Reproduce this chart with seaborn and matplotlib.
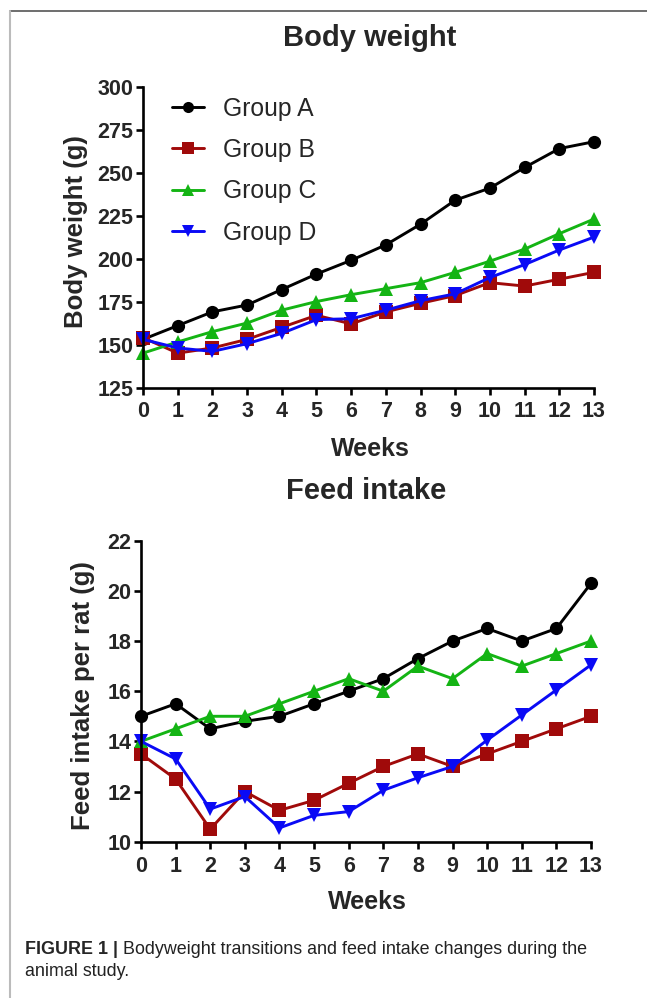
import matplotlib
matplotlib.use("Agg")
import matplotlib.pyplot as plt
import seaborn as sns
import pandas as pd
from matplotlib.lines import Line2D

sns.set_theme(style="ticks")
plt.rcParams['font.family'] = ['Liberation Sans', 'DejaVu Sans']

weeks = list(range(14))
groups = ["Group A", "Group B", "Group C", "Group D"]
colors = ["#000000", "#A00A0A", "#14B414", "#0A0AF5"]
markers = ["o", "s", "^", "v"]

bw_a = [153, 161, 169, 173, 182, 191, 199, 208, 220, 234, 241, 253, 264, 268]
bw_b = [154, 145, 148, 153, 160, 167, 162, 169, 174, 178.5, 186, 184, 188, 192]
bw_c = [145, 151.5, 157.5, 162.5, 170, 175, 179, 182.5, 186, 192, 198.5, 205.5, 214.5, 223]
bw_d = [153, 148, 146, 150.5, 156.5, 164.5, 165, 170, 175.5, 179.5, 189, 196.5, 205, 212.5]

fi_a = [15.0, 15.5, 14.5, 14.8, 15.0, 15.5, 16.0, 16.5, 17.3, 18.0, 18.5, 18.0, 18.5, 20.3]
fi_b = [13.5, 12.5, 10.5, 12.0, 11.25, 11.65, 12.33, 13.0, 13.5, 13.0, 13.5, 14.0, 14.5, 15.0]
fi_c = [14.0, 14.5, 15.0, 15.0, 15.5, 16.0, 16.5, 16.0, 17.0, 16.5, 17.5, 17.0, 17.5, 18.0]
fi_d = [14.0, 13.3, 11.3, 11.8, 10.55, 11.05, 11.2, 12.05, 12.55, 13.0, 14.05, 15.05, 16.05, 17.05]

bw_ticks = [125, 150, 175, 200, 225, 250, 275, 300]
fi_ticks = [10, 12, 14, 16, 18, 20, 22]


def long_df(series):
    rows = []
    for g, vals in zip(groups, series):
        for w, v in zip(weeks, vals):
            rows.append({"Weeks": w, "value": v, "group": g})
    return pd.DataFrame(rows)


W, H = 647, 998
fig = plt.figure(figsize=(W / 100, H / 100), dpi=100)
fig.patch.set_facecolor("white")

# frame lines of the figure page
fig.add_artist(Line2D([9.5 / W, 1.0], [1 - 10.5 / H, 1 - 10.5 / H], color="#555555", lw=1.2, transform=fig.transFigure))
fig.add_artist(Line2D([9.5 / W, 9.5 / W], [0, 1 - 10.5 / H], color="#BBBBBB", lw=1.5, transform=fig.transFigure))


def make_axes(rect, df, yticks, ylim):
    ax = fig.add_axes(rect)
    ax.set_facecolor("white")
    sns.lineplot(data=df, x="Weeks", y="value", hue="group", style="group",
                 palette=dict(zip(groups, colors)), markers=dict(zip(groups, markers)),
                 dashes=False, linewidth=2.1, markersize=9.5, markeredgewidth=0,
                 ax=ax, legend=False)
    for ln in ax.lines:
        ln.set_clip_on(False)
    ax.set_xlim(0, 13)
    ax.set_ylim(*ylim)
    ax.set_xticks(weeks)
    ax.set_yticks(yticks)
    for s in ["top", "right"]:
        ax.spines[s].set_visible(False)
    for s in ["left", "bottom"]:
        ax.spines[s].set_linewidth(1.9)
        ax.spines[s].set_color("black")
    ax.tick_params(axis="both", direction="out", length=5, width=1.9, color="black",
                   labelsize=15.5)
    ax.tick_params(axis="x", pad=5)
    ax.tick_params(axis="y", pad=2)
    for lab in ax.get_xticklabels() + ax.get_yticklabels():
        lab.set_fontweight("bold")
    ax.set_xlabel("")
    ax.set_ylabel("")
    return ax


ax1 = make_axes([143 / W, 1 - 387.5 / H, 451 / W, 300.8 / H], long_df([bw_a, bw_b, bw_c, bw_d]), bw_ticks, (125, 300))
ax2 = make_axes([141 / W, 1 - 841.7 / H, 450 / W, 301 / H], long_df([fi_a, fi_b, fi_c, fi_d]), fi_ticks, (10, 22))

handles = [Line2D([], [], color=c, marker=m, lw=2.1, markersize=8, markeredgewidth=0) for c, m in zip(colors, markers)]
ax1.legend(handles, groups, loc="upper left", bbox_to_anchor=(29 / 451, 1 - 10 / 300.8), frameon=False,
           fontsize=17.8, handlelength=1.3, handletextpad=0.75, labelspacing=0.7, borderaxespad=0,
           borderpad=0)

fig.text(370 / W, 1 - 38 / H, "Body weight", ha="center", va="center", fontsize=21, fontweight="bold")
fig.text(366 / W, 1 - 491 / H, "Feed intake", ha="center", va="center", fontsize=21, fontweight="bold")
fig.text(370 / W, 1 - 449 / H, "Weeks", ha="center", va="center", fontsize=18, fontweight="bold")
fig.text(367 / W, 1 - 902 / H, "Weeks", ha="center", va="center", fontsize=18, fontweight="bold")
fig.text(76 / W, 1 - 232 / H, "Body weight (g)", ha="center", va="center", rotation=90, fontsize=18.5, fontweight="bold")
fig.text(83 / W, 1 - 696 / H, "Feed intake per rat (g)", ha="center", va="center", rotation=90, fontsize=18.5, fontweight="bold")

# caption
renderer = fig.canvas.get_renderer()
t1 = fig.text(25 / W, 1 - 950 / H, "FIGURE 1 | ", ha="left", va="center", fontsize=12.9, fontweight="bold")
bb = t1.get_window_extent(renderer=renderer)
fig.text(bb.x1 / W, 1 - 950 / H, "Bodyweight transitions and feed intake changes during the",
         ha="left", va="center", fontsize=12.9, color="#222222")
fig.text(25 / W, 1 - 971 / H, "animal study.", ha="left", va="center", fontsize=12.9, color="#222222")

fig.savefig("out.png", dpi=100, facecolor="white")
